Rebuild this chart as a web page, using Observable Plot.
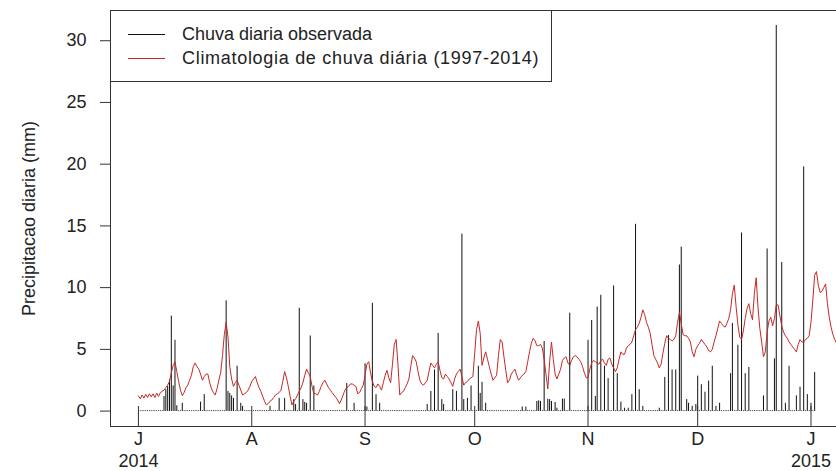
<!DOCTYPE html>
<html><head><meta charset="utf-8">
<script src="https://cdn.jsdelivr.net/npm/d3@7"></script>
<script src="https://cdn.jsdelivr.net/npm/@observablehq/plot@0.6"></script>
<style>
html,body{margin:0;padding:0;background:#fff;overflow:hidden;}
#wrap{position:relative;width:836px;height:471px;overflow:hidden;font-family:"Liberation Sans",Arial,sans-serif;}
#chart svg{max-width:none !important;width:864px;height:471px;display:block;}
#legend{position:absolute;left:110px;top:10px;width:442px;height:72px;border:1px solid #333;background:#fff;box-sizing:border-box;}
.item{position:absolute;left:0;height:20px;display:flex;align-items:center;font-size:18px;color:#222;white-space:nowrap;}
.sw{width:37px;height:0;border-top:1px solid;margin-left:17px;margin-right:17px;}
#lg1{letter-spacing:0.7px;}
</style></head>
<body>
<div id="wrap">
  <div id="chart"></div>
  <div id="legend">
    <div class="item" style="top:13px"><span class="sw" style="border-color:#111"></span><span id="lg0"></span></div>
    <div class="item" style="top:37px"><span class="sw" style="border-color:#c62828"></span><span id="lg1"></span></div>
  </div>
</div>
<script>
// ---- data ----
const inicio = "2014-07-01";       // first observation
const passoHoras = 12;             // spacing between observations (hours)
const seriesNomes = ["Chuva diaria observada", "Climatologia de chuva diária (1997-2014)"];
const yLabel = "Precipitacao diaria (mm)";
const mesesDatas = ["2014-07-01","2014-08-01","2014-09-01","2014-10-01","2014-11-01","2014-12-01","2015-01-01"];
const mesesRotulos = ["J","A","S","O","N","D","J"];
const anosDatas = ["2014-07-01","2015-01-01"];
const anosRotulos = ["2014","2015"];
const yTicks = [0,5,10,15,20,25,30];

const chuva = [
0,0,0,0,0,0,0,0,0,0,
0,0,0,0,1.15,1.7,1.96,2.5,7.66,2.0,
5.7,0.4,0,0,0.6,0,0,0,0,0,
0,0,0,0,0.7,0,1.3,0,0,0,
0,0,0,0,0,0,0,0,8.9,1.56,
1.4,1.2,1.0,0,3.6,0,0.6,0.35,0,0,
0,0,0,0,0,0,0,0,0,0,
0,0,0.35,0,0,0,0,1.0,0,0,
1.0,0,0,0,0,0.9,0.5,0,8.3,0,
0.9,0.67,0.6,0,6.05,0,2.0,0,0,0,
0,0,0,0,0,0,0,0,0,0,
0,0,0,0,2.2,0,0,0,0.6,0,
0,0,0,0,3.8,0.3,0,0,8.7,0,
1.3,0,0.6,0,0,0,0,0,0,0,
0,0,0,0,0,0,0,0,0,0,
0,0,0,0,0,0,0,0,0.5,0,
1.56,0,3.3,0,6.26,0,0.9,0.5,0,0,
0,0,1.7,0,1.56,0,0,14.3,0.9,0,
1.0,0,2.0,0,0,0,3.6,1.4,2.3,0,
0.6,0,0,0,0,0,0,0,0,0,
0,0,0,0,0,0,0,0,0,0,
0.3,0,0.3,0,0,0,0,0,0.75,0.8,
0.75,0,5.6,0,0.94,0.9,0.75,0,0.67,0.2,
0,0,0.94,0.94,0,0,7.9,0,0,0,
0,0,0,0,0,0,5.7,0,7.3,0,
1.15,8.4,0,9.35,0,3.6,0,2.6,0,0,
10.1,0,3.0,0,0.7,0,0.2,0,0.2,0,
1.3,0,15.1,0,1.7,0,0.35,0,0,0,
0,0,0,0,0,0.2,0,0,2.7,0,
6.1,0,3.3,0,3.3,0,11.8,13.25,0,0,
0.9,0.6,0,0.35,0,0.5,2.8,0,2.1,0,
1.5,0,2.4,0,3.6,0,0.35,0,0.6,0,
0,0,0,0,3.0,7.07,0,0,5.3,0,
14.4,0,3.0,0,3.5,0,0,0,0,0,
0,0,1.2,0,13.1,0,0,0,4.2,31.2,
0,0,12.0,0,0.6,0,3.6,0,0,0,
1.2,0,1.9,0,19.75,0,1.3,0,0.6,0,
3.1
];

const climatologia = [
1.23,1.0,1.3,1.05,1.35,1.1,1.4,1.15,1.4,1.1,
1.45,1.2,1.5,1.6,1.7,1.9,2.1,2.4,3.1,3.7,
4.0,3.2,2.4,1.7,1.25,1.5,1.9,2.1,2.5,2.9,
3.6,3.9,3.6,3.4,3.0,2.5,2.8,3.0,3.0,2.3,
1.8,1.5,1.3,1.8,2.5,3.1,4.5,6.2,7.2,6.0,
3.6,2.6,2.0,2.3,2.5,2.1,1.7,1.3,1.4,1.5,
1.7,2.0,2.4,2.6,2.8,2.3,1.9,1.6,1.2,0.8,
0.5,0.6,0.8,0.9,1.1,1.3,1.4,1.5,1.7,2.4,
3.2,2.7,2.0,1.2,0.5,0.8,1.0,1.3,1.6,1.9,
2.3,2.9,3.4,3.1,2.8,2.0,1.4,1.4,1.3,1.6,
2.0,2.3,2.5,2.2,1.9,1.7,1.5,1.3,1.1,0.9,
0.6,0.9,1.3,1.7,1.9,2.0,2.2,2.2,2.1,2.0,
1.4,1.5,1.8,2.1,2.9,3.8,4.0,3.1,2.4,2.0,
1.9,2.2,2.0,1.7,2.3,2.9,3.3,2.7,2.3,3.8,
5.4,5.8,3.8,1.3,1.5,1.6,1.9,2.2,2.6,3.6,
4.5,4.3,4.0,3.2,2.5,2.2,2.1,2.3,2.5,3.2,
3.9,3.7,3.5,3.8,4.0,3.3,2.7,2.6,3.0,2.8,
2.6,2.3,2.0,2.6,3.0,3.2,3.4,2.8,2.1,2.3,
2.4,2.6,2.7,2.8,4.7,6.6,7.3,6.3,3.7,4.3,
4.8,4.2,3.6,3.0,2.5,2.7,2.9,4.5,5.8,5.6,
4.4,3.3,2.3,2.5,3.0,3.2,3.4,2.9,2.5,2.7,
2.9,3.0,3.2,4.0,4.8,5.5,5.9,5.7,5.3,5.3,
5.4,5.1,4.2,3.0,1.8,4.0,5.6,4.2,3.0,2.6,
3.0,3.4,4.1,4.3,4.4,3.9,3.7,4.1,4.4,4.5,
4.4,4.2,4.0,3.6,3.1,2.7,2.7,3.4,3.9,4.1,
4.0,3.9,3.8,4.1,4.2,3.9,3.7,4.2,4.3,3.8,
3.5,3.2,3.5,4.2,4.8,4.6,4.6,5.1,5.3,5.4,
5.6,6.1,6.6,6.8,7.1,7.6,8.2,7.8,7.2,6.8,
6.3,5.4,4.5,4.2,3.9,3.5,3.8,4.7,5.5,6.1,
5.9,5.8,5.7,5.8,6.1,7.2,8.0,7.1,6.2,6.1,
6.1,5.9,5.6,4.8,4.4,5.0,5.3,5.5,5.8,5.6,
5.4,5.2,4.9,4.8,5.0,5.6,6.1,6.7,7.3,7.1,
6.9,6.8,7.1,7.5,8.2,9.5,10.2,8.5,7.0,6.0,
5.8,6.5,7.5,8.3,8.7,7.9,7.4,9.5,10.8,8.4,
6.7,5.6,4.4,4.8,6.4,7.3,7.6,6.9,7.5,8.6,
8.6,7.7,6.9,6.4,6.1,5.9,5.6,5.4,5.2,5.0,
4.8,5.4,5.8,5.6,5.6,5.8,5.9,6.1,7.2,9.0,
11.0,11.3,10.2,9.6,9.7,10.0,10.3,8.7,7.6,6.8,
6.2,5.8,5.5
];

// ---- build tables ----
const t0 = new Date(inicio + "T00:00:00Z").getTime();
const stepMs = passoHoras * 3600e3;
const chuvaData = chuva.map((v, i) => ({date: new Date(t0 + i * stepMs), value: v}));
const climData = climatologia.map((v, i) => ({date: new Date(t0 + i * stepMs), value: v}));
const meses = mesesDatas.map(d => new Date(d + "T00:00:00Z"));
const anos = anosDatas.map(d => new Date(d + "T00:00:00Z"));
const mesLabel = new Map(meses.map((d, i) => [+d, mesesRotulos[i]]));
const anoLabel = new Map(anos.map((d, i) => [+d, anosRotulos[i]]));

// R-style 4% padding of the data range
const allDates = climData.map(d => +d.date);
const [xmin, xmax] = d3.extent(allDates);
const xpad = 0.04 * (xmax - xmin);
const ymax = d3.max([...chuva, ...climatologia]);
const ypad = 0.04 * ymax;

document.getElementById("lg0").textContent = seriesNomes[0];
document.getElementById("lg1").textContent = seriesNomes[1];

const chart = Plot.plot({
  width: 864,
  height: 471,
  marginLeft: 110,
  marginRight: 0,
  marginTop: 10,
  marginBottom: 45,
  style: {fontFamily: "Liberation Sans, Arial, sans-serif", fontSize: "18px", color: "#222", background: "#fff", overflow: "visible", maxWidth: "none"},
  x: {type: "utc", domain: [new Date(xmin - xpad), new Date(xmax + xpad)], label: null},
  y: {domain: [-ypad, ymax + ypad], label: null},
  marks: [
    Plot.ruleX(chuvaData, {x: "date", y1: 0, y2: "value", stroke: "#111", strokeWidth: 1, strokeLinecap: "round"}),
    Plot.line(climData, {x: "date", y: "value", stroke: "#c62828", strokeWidth: 1}),
    Plot.frame({stroke: "#333", strokeWidth: 1}),
    Plot.axisY(yTicks, {tickSize: 10, tickPadding: 14, tickFormat: d => String(d), label: yLabel, labelArrow: "none", labelAnchor: "center", labelOffset: 88, stroke: "#333"}),
    Plot.axisX(meses, {tickSize: -20, tickPadding: 26, tickFormat: d => mesLabel.get(+d), label: null, stroke: "#333"}),
    Plot.axisX(anos, {tickSize: 0, tickPadding: 28, tickFormat: d => anoLabel.get(+d), label: null})
  ]
});
document.getElementById("chart").appendChild(chart);
</script>
</body></html>
